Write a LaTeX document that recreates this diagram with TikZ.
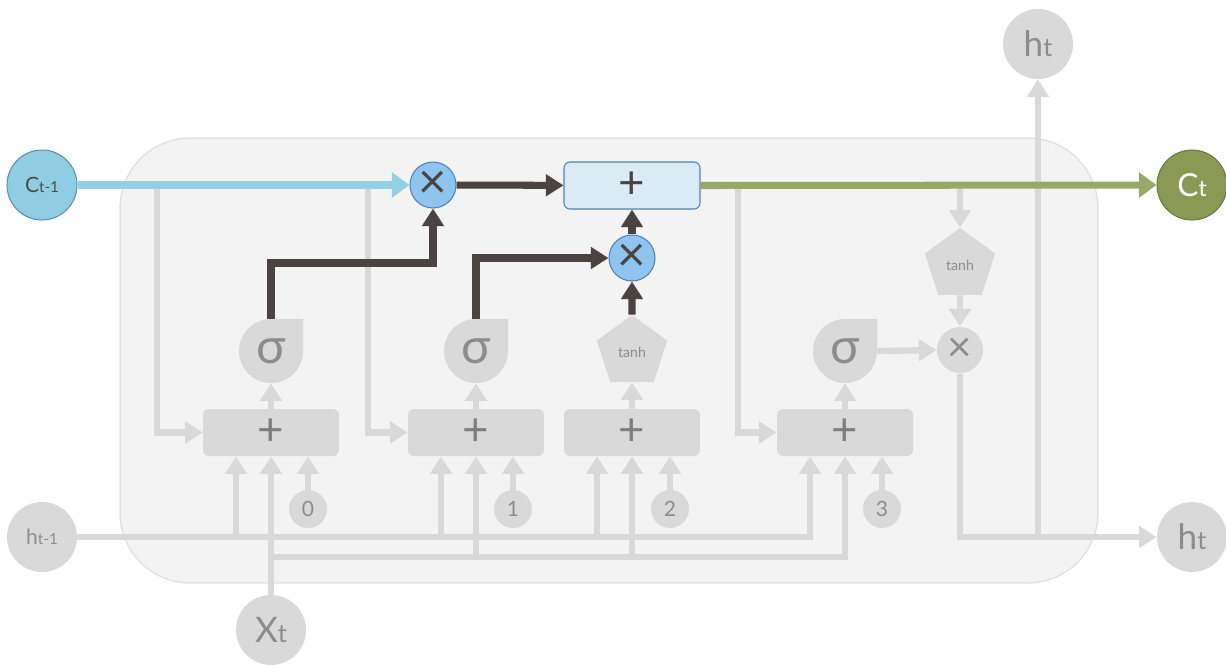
\documentclass[tikz,border=0pt]{standalone}
\usepackage{fontspec}
\setmainfont{Lato}
\usetikzlibrary{positioning}
\usetikzlibrary{arrows.meta}
\usetikzlibrary{shapes.geometric}
\definecolor{cellbg}{HTML}{F3F3F3}
\definecolor{cellline}{HTML}{E2E2E2}
\definecolor{lgray}{HTML}{D9D9D9}
\definecolor{tgray}{HTML}{8C8C8C}
\definecolor{dark}{HTML}{4A4341}
\definecolor{cblue}{HTML}{92D0E3}
\definecolor{cbluefill}{HTML}{8FCDE2}
\definecolor{cblueline}{HTML}{5E8FAE}
\definecolor{mulfill}{HTML}{8EC4EE}
\definecolor{mulline}{HTML}{4F81BD}
\definecolor{addfill}{HTML}{DAEBF5}
\definecolor{addline}{HTML}{5682A8}
\definecolor{cgreen}{HTML}{98A868}
\definecolor{cgreenfill}{HTML}{8A9A55}
\definecolor{cgreenline}{HTML}{6B7A40}
\newcommand{\sub}[1]{\scalebox{0.72}{#1}}

\tikzset{
  garrow/.style={-{Triangle[width=12pt,length=10pt]}, lgray, line width=3.6pt},
  darrow/.style={-{Triangle[width=12pt,length=10pt]}, dark, line width=4pt},
  barrow/.style={-{Triangle[width=14pt,length=10pt]}, cblue, line width=4pt},
  carrow/.style={-{Triangle[width=14pt,length=10pt]}, cgreen, line width=4pt},
  bignode/.style={circle, minimum size=1.4cm, inner sep=0, fill=lgray, text=tgray},
  bias/.style={circle, minimum size=0.76cm, inner sep=0, fill=lgray, text=tgray, font=\fontsize{12}{12}\selectfont},
  addbox/.style={rectangle, rounded corners=0.12cm, fill=lgray, minimum width=2.72cm, minimum height=0.94cm, text=tgray!90!black, font=\fontsize{26}{26}\selectfont},
  sigmagate/.style={circle, minimum size=1.28cm, inner sep=0, text=tgray, font=\fontsize{28}{28}\selectfont},
  tanhgate/.style={regular polygon, regular polygon sides=5, minimum size=1.48cm, inner sep=0, fill=lgray, text=tgray, font=\fontsize{8}{8}\selectfont},
  mulgate/.style={circle, minimum size=0.92cm, inner sep=0, fill=mulfill, draw=mulline, line width=0.6pt, text=dark, font=\fontsize{28}{28}\selectfont}
}

\begin{document}
\begin{tikzpicture}[x=0.02cm, y=0.02cm]
        \useasboundingbox (0,0) rectangle (1226,-664);
        % cell %
        \node[rectangle, rounded corners=1.4cm, fill=cellbg, draw=cellline, line width=0.8pt, minimum width=19.56cm, minimum height=8.9cm] (cell) at (609,-360.5) {};
        \foreach \x in {271,476,845}
            \fill[lgray] (\x,-351) ++(0,32) -- ++(32,0) -- ++(0,-32) arc[start angle=0, end angle=-270, radius=32] -- cycle;

        % nodes %
        \node[bignode, fill=cbluefill, draw=cblueline, line width=0.6pt, text=black!70, font=\fontsize{12}{12}\selectfont] (c0) at (42,-185) {C\sub{t-1}};
        \node[bignode, fill=cgreenfill, draw=cgreenline, line width=0.6pt, text=white, font=\fontsize{18}{18}\selectfont] (c1) at (1192,-185) {C\sub{t}};
        \node[bignode, font=\fontsize{12}{12}\selectfont] (h0) at (42,-537) {h\sub{t-1}};
        \node[bignode, font=\fontsize{20}{20}\selectfont] (x0) at (271,-630) {X\sub{t}};
        \node[bignode, font=\fontsize{20}{20}\selectfont] (htop) at (1038,-44) {h\sub{t}};
        \node[bignode, font=\fontsize{20}{20}\selectfont] (hr) at (1192,-537) {h\sub{t}};

        \node[mulgate] (m1) at (433,-185) {×};
        \node[mulgate] (m2) at (632,-258) {×};
        \node[addbox, fill=addfill, draw=addline, line width=0.6pt, text=dark] (cadd) at (632,-185.5) {+};
        \node[mulgate, fill=lgray, draw=none, text=tgray, font=\fontsize{24}{24}\selectfont] (m3) at (960,-350) {×};

        \node[sigmagate] (sg0) at (271,-351) {σ};
        \node[sigmagate] (sg1) at (476,-351) {σ};
        \node[sigmagate] (sg3) at (845,-351) {σ};
        \node[tanhgate] (th0) at (632,-352) {tanh};
        \node[tanhgate] (th1) at (960,-265) {tanh};

        \node[addbox] (p0) at (271,-432.5) {+};
        \node[addbox] (p1) at (476,-432.5) {+};
        \node[addbox] (p2) at (632,-432.5) {+};
        \node[addbox] (p3) at (845,-432.5) {+};

        \node[bias] (b0) at (308,-509) {0};
        \node[bias] (b1) at (513,-509) {1};
        \node[bias] (b2) at (670,-509) {2};
        \node[bias] (b3) at (882,-509) {3};

        \foreach \n in {0,1,2,3}
            \coordinate (i\n) at ([xshift=-0.7cm]p\n.south);
        \coordinate (xj) at (271,-557);
        \coordinate (t0) at (157,-185);
        \coordinate (t1) at (368,-185);
        \coordinate (t3) at (738,-185);
        \coordinate (t4) at (960,-185);
        \coordinate (t5) at (1038,-537);
        \coordinate (k0) at (271,-263);

        % gray edges %
        \draw[garrow] (h0.east) -| (i3);
        \foreach \n in {0,1,2}
            \draw[garrow] (i\n |- h0) -- (i\n);
        \draw[garrow] (x0.north) -- (p0.south);
        \draw[garrow] (xj) -| (p3.south);
        \foreach \n in {1,2}
            \draw[garrow] (p\n.south |- xj) -- (p\n.south);
        \foreach \n in {0,1,2,3}
            \draw[garrow] (b\n.north) -- (b\n |- p\n.south);
        \draw[garrow] (p0.north) -- (sg0.south);
        \draw[garrow] (p1.north) -- (sg1.south);
        \draw[garrow] (p2.north) -- (th0.south);
        \draw[garrow] (p3.north) -- (sg3.south);
        \draw[garrow] (t0) |- (p0.west);
        \draw[garrow] (t1) |- (p1.west);
        \draw[garrow] (t3) |- (p3.west);
        \draw[garrow] (t4) -- (th1.north);
        \draw[garrow] (th1.south) -- (m3.north);
        \draw[garrow] (sg3.east) -- (m3.west);
        \draw[garrow] (m3.south) |- (hr.west);
        \draw[garrow] (t5) -- (htop.south);

        % cell state edges %
        \draw[barrow] (c0) -- (m1);
        \draw[darrow] (m1) -- (cadd);
        \draw[darrow] (sg0.north) -- (k0) -| (m1.south);
        \draw[darrow] (sg1.north) |- (m2.west);
        \draw[darrow] (th0.north) -- (m2.south);
        \draw[darrow] (m2.north) -- (cadd.south);
        \draw[carrow] (cadd.east) -- (c1.west);
      \end{tikzpicture}
\end{document}
